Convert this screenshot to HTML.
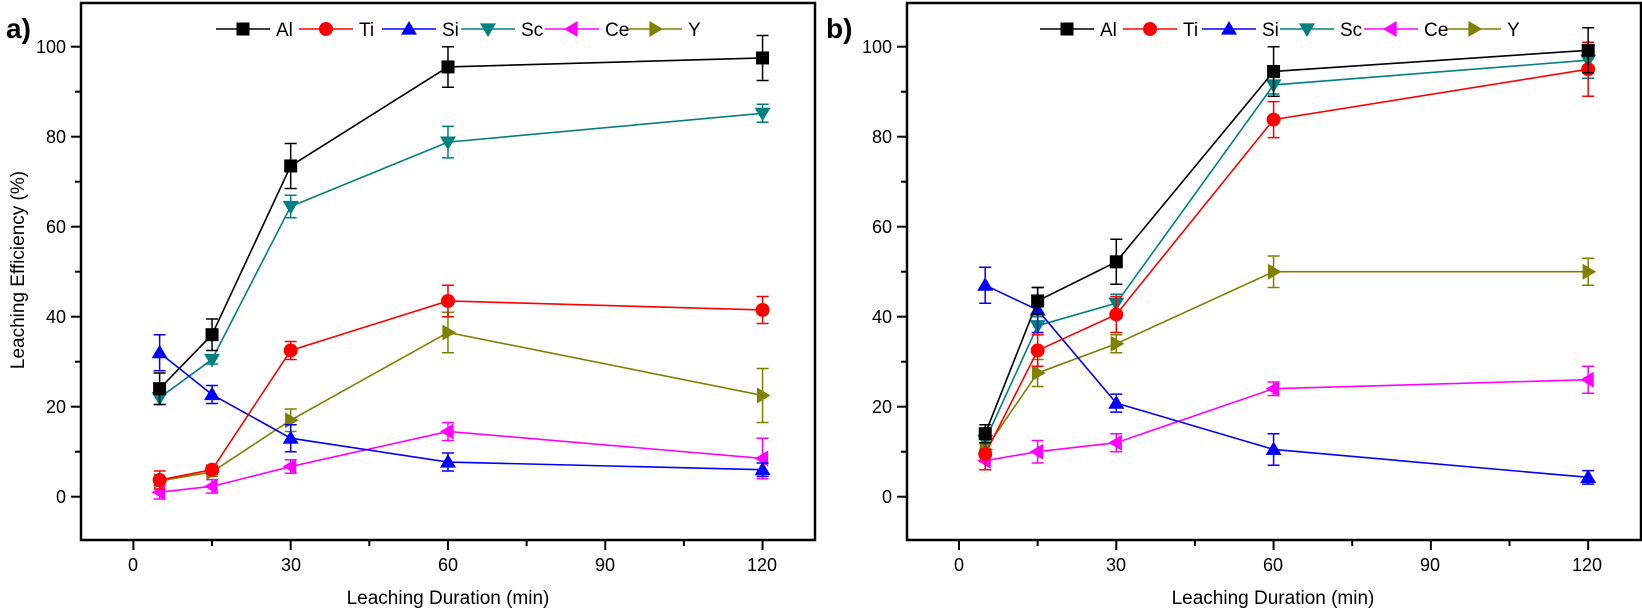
<!DOCTYPE html>
<html><head><meta charset="utf-8"><style>
body{margin:0;background:#fff;}
svg{display:block;font-family:"Liberation Sans",sans-serif;}
</style></head><body>
<svg id="s" width="1642" height="611" viewBox="0 0 1642 611">
<g font-size="18" fill="#000">
<text x="6" y="38" font-size="28" font-weight="bold">a)</text>
<text x="826" y="38" font-size="28" font-weight="bold">b)</text>
<g text-anchor="end">
<text x="66" y="53">100</text><text x="66" y="143">80</text><text x="66" y="233">60</text><text x="66" y="323">40</text><text x="66" y="413">20</text><text x="66" y="503">0</text>
<text x="892" y="53">100</text><text x="892" y="143">80</text><text x="892" y="233">60</text><text x="892" y="323">40</text><text x="892" y="413">20</text><text x="892" y="503">0</text>
</g>
<g text-anchor="middle">
<text x="133" y="571">0</text><text x="291" y="571">30</text><text x="448" y="571">60</text><text x="605" y="571">90</text><text x="762" y="571">120</text>
<text x="959" y="571">0</text><text x="1116" y="571">30</text><text x="1273" y="571">60</text><text x="1430" y="571">90</text><text x="1587" y="571">120</text>
<text x="448" y="604" font-size="19">Leaching Duration (min)</text>
<text x="1273" y="604" font-size="19">Leaching Duration (min)</text>
<text transform="translate(24,270) rotate(-90)" font-size="19">Leaching Efficiency (%)</text>
</g>
</g>
<g id="p"></g>
<g font-size="19" fill="#000" id="lt">
<text x="276" y="36">Al</text><text x="359" y="36">Ti</text><text x="442" y="36">Si</text><text x="521" y="36">Sc</text><text x="605" y="36">Ce</text><text x="688" y="36">Y</text>
<text x="1100" y="36">Al</text><text x="1183" y="36">Ti</text><text x="1262" y="36">Si</text><text x="1340" y="36">Sc</text><text x="1424" y="36">Ce</text><text x="1507" y="36">Y</text>
</g>
</svg>
<script>
const NS="http://www.w3.org/2000/svg",P=document.getElementById('p');
function el(t,a){const e=document.createElementNS(NS,t);for(const k in a)e.setAttribute(k,a[k]);P.appendChild(e);return e;}
const cols={Al:'#000',Ti:'#f00',Si:'#00f',Sc:'#008080',Ce:'#f0f',Y:'#808000'};
const shp={Al:'sq',Ti:'ci',Si:'up',Sc:'dn',Ce:'lf',Y:'rt'};
function mk(s,x,y,c){const r=6.5;
 if(shp[s]=='sq')el('rect',{x:x-r,y:y-r,width:2*r,height:2*r,fill:c});
 else if(shp[s]=='ci')el('circle',{cx:x,cy:y,r:r+0.5,fill:c});
 else{let p;const a=r+1.5;
  if(shp[s]=='up')p=[[x,y-a],[x-a,y+a*0.7],[x+a,y+a*0.7]];
  if(shp[s]=='dn')p=[[x,y+a],[x-a,y-a*0.7],[x+a,y-a*0.7]];
  if(shp[s]=='lf')p=[[x-a,y],[x+a*0.7,y-a],[x+a*0.7,y+a]];
  if(shp[s]=='rt')p=[[x+a,y],[x-a*0.7,y-a],[x-a*0.7,y+a]];
  el('polygon',{points:p.map(q=>q.join(',')).join(' '),fill:c});}}
const X=[5,15,30,60,120];
const D=[{
Al:[[24,3.5],[36,3.5],[73.5,5],[95.5,4.5],[97.5,5]],
Ti:[[3.7,2],[6,1],[32.5,2],[43.5,3.5],[41.5,3]],
Si:[[32,4],[22.7,2],[13,3],[7.7,2],[6,1.5]],
Sc:[[22,1.5],[30.5,1],[64.5,2.5],[78.8,3.5],[85.2,2]],
Ce:[[1,1.5],[2.3,1.5],[6.7,1.5],[14.5,2],[8.5,4.5]],
Y:[[3.5,1],[5.5,1],[17,2.5],[36.5,4.5],[22.5,6]]},{
Al:[[14,2],[43.5,3],[52.2,5],[94.5,5.5],[99.2,5]],
Ti:[[9.5,3.5],[32.5,3.5],[40.5,4],[83.8,4],[95,6]],
Si:[[47,4],[41.5,5],[20.8,2],[10.5,3.5],[4.3,1.5]],
Sc:[[12.5,2],[38,2],[43,2],[91.5,2],[97,4]],
Ce:[[8,2],[10,2.5],[12,2],[24,1.5],[26,3]],
Y:[[10.5,1.5],[27.5,3],[34,2],[50,3.5],[50,3]]}];
const ord=['Y','Ce','Sc','Si','Ti','Al'];
[0,1].forEach(i=>{
 const L=i?907:81,R=L+734,x0=i?959:133.4,kx=5.243,T=3,B=540;
 const fx=v=>x0+kx*v,fy=v=>496.7-4.5*v;
 el('rect',{x:L,y:T,width:R-L,height:B-T,fill:'none',stroke:'#000','stroke-width':2.5});
 for(let v=-10;v<=110;v+=10){const y=fy(v);if(y<T+2||y>B-2)continue;el('line',{x1:L-(v%20?6:10),x2:L,y1:y,y2:y,stroke:'#000','stroke-width':2});}
 for(let v=0;v<=120;v+=15){const x=fx(v);el('line',{x1:x,x2:x,y1:B,y2:B+(v%30?6:10),stroke:'#000','stroke-width':2});}
 ord.forEach(s=>{const c=cols[s],d=D[i][s];
  el('polyline',{points:d.map((p,j)=>fx(X[j])+','+fy(p[0])).join(' '),fill:'none',stroke:c,'stroke-width':1.6});
  d.forEach((p,j)=>{const x=fx(X[j]),y1=fy(p[0]+p[1]),y2=fy(p[0]-p[1]);
   el('path',{d:`M${x} ${y1}V${y2}M${x-6} ${y1}H${x+6}M${x-6} ${y2}H${x+6}`,stroke:c,'stroke-width':1.5,fill:'none'});
   mk(s,x,fy(p[0]),c);});});
 const lx=i?[1040,1123,1202,1280,1364,1447]:[216,299,382,461,545,628];
 ['Al','Ti','Si','Sc','Ce','Y'].forEach((s,j)=>{const x=lx[j];
  el('line',{x1:x,x2:x+54,y1:29,y2:29,stroke:cols[s],'stroke-width':1.6});mk(s,x+27,29,cols[s]);});
});
</script>
</body></html>
